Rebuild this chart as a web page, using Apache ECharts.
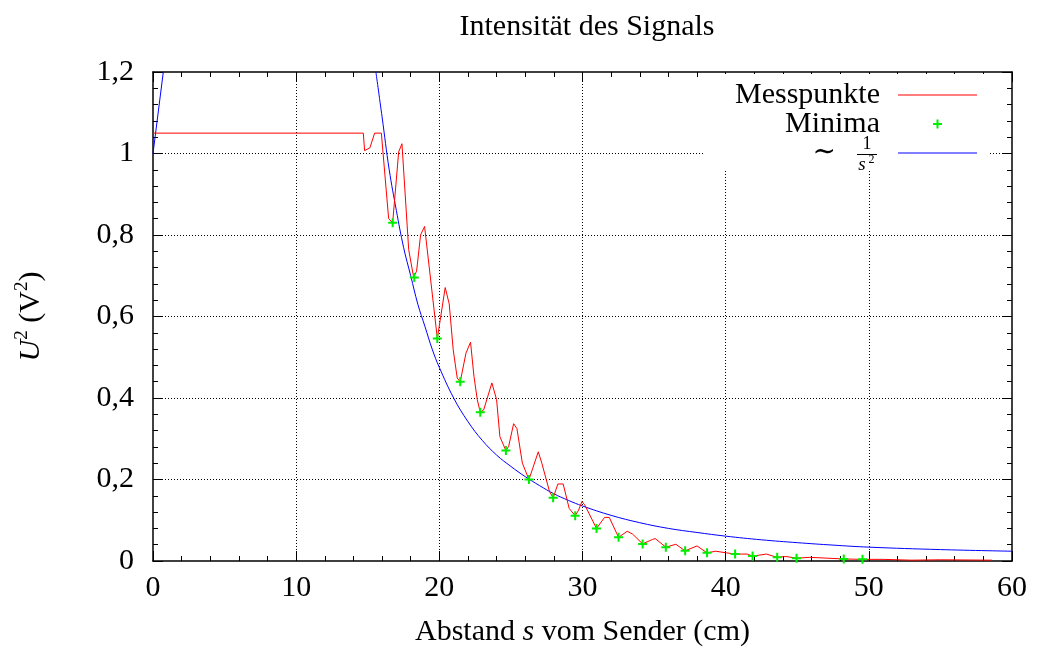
<!DOCTYPE html>
<html>
<head>
<meta charset="utf-8">
<script src="https://cdn.jsdelivr.net/npm/echarts@6/dist/echarts.min.js"></script>
<style>html,body{margin:0;padding:0;background:#fff}#c{width:1039px;height:654px}</style>
</head>
<body>
<div id="c"></div>
<script>
// ---- data ----
const messpunkte = [
  [0, 1.05], [14.69, 1.05], [14.78, 1.007], [15.15, 1.014], [15.48, 1.05], [15.95, 1.05],
  [16.46, 0.84], [16.74, 0.83], [17.16, 1.004], [17.39, 1.024], [17.86, 0.764], [18.2, 0.697],
  [18.41, 0.711], [18.69, 0.80], [18.97, 0.821], [19.86, 0.546], [20.41, 0.671], [20.69, 0.631],
  [20.97, 0.518], [21.25, 0.449], [21.46, 0.44], [21.86, 0.51], [22.18, 0.537], [22.42, 0.453],
  [22.65, 0.396], [22.86, 0.365], [23.1, 0.371], [23.67, 0.437], [24.0, 0.396], [24.23, 0.305],
  [24.65, 0.271], [24.84, 0.281], [25.19, 0.337], [25.42, 0.325], [25.8, 0.24], [26.26, 0.2],
  [26.53, 0.228], [26.91, 0.268], [27.16, 0.24], [27.7, 0.17], [27.95, 0.155], [28.28, 0.189],
  [28.65, 0.189], [29.07, 0.129], [29.49, 0.111], [29.73, 0.125], [29.96, 0.146], [30.15, 0.138],
  [30.98, 0.08], [31.54, 0.107], [31.87, 0.107], [32.52, 0.058], [33.12, 0.073], [33.5, 0.066],
  [34.2, 0.042], [34.9, 0.053], [35.08, 0.055], [35.82, 0.034], [36.52, 0.041], [37.17, 0.025],
  [38.0, 0.037], [38.7, 0.02], [39.3, 0.024], [40.06, 0.02], [40.66, 0.017], [41.5, 0.017],
  [41.88, 0.012], [42.85, 0.017], [43.6, 0.009], [44.2, 0.011], [44.95, 0.007], [45.88, 0.009],
  [48.25, 0.005], [49.56, 0.004], [51.0, 0.004], [53.0, 0.002], [55.0, 0.003], [58.6, 0.002]
];
const minima = [
  [16.74, 0.83], [18.25, 0.696], [19.86, 0.546], [21.46, 0.44], [22.86, 0.365], [24.65, 0.271],
  [26.26, 0.2], [27.95, 0.155], [29.49, 0.111], [30.98, 0.08], [32.52, 0.058], [34.2, 0.042],
  [35.82, 0.034], [37.17, 0.025], [38.7, 0.02], [40.66, 0.017], [41.88, 0.012], [43.6, 0.009],
  [44.95, 0.007], [48.25, 0.005], [49.56, 0.004]
];
const fitLeft = [[0, 1.0], [0.72, 1.2]];
const fitRight = [
  [15.57, 1.2], [16.0, 1.09], [16.5, 0.96], [17.0, 0.86], [17.5, 0.77], [18.0, 0.70],
  [18.5, 0.63], [19.0, 0.575], [19.5, 0.52], [20.0, 0.475], [21.0, 0.40], [22.0, 0.342],
  [23.0, 0.296], [24.0, 0.26], [25.0, 0.232], [26.0, 0.207], [27.0, 0.185], [28.0, 0.165],
  [29.0, 0.149], [30.0, 0.135], [32.0, 0.112], [34.0, 0.094], [36.0, 0.08], [38.0, 0.07],
  [40.0, 0.061], [42.5, 0.052], [45.0, 0.045], [47.5, 0.039], [50.0, 0.034], [55.0, 0.028],
  [60.0, 0.024]
];
const xTicks = [0, 10, 20, 30, 40, 50, 60];
const yTicks = [0, 0.2, 0.4, 0.6, 0.8, 1, 1.2];
const titleText = 'Intensität des Signals';
const legendNames = ['Messpunkte', 'Minima', 'fit'];

// ---- chart ----
const FONT = 'Liberation Serif';
const plusPath = 'path://M3.5,0H5.5V3.5H9V5.5H5.5V9H3.5V5.5H0V3.5H3.5Z';
const lineIcon = 'path://M0,0H79V1H0Z';
const chart = echarts.init(document.getElementById('c'), null, {renderer: 'canvas'});

function mirrorAxis(extra) {
  return Object.assign({
    type: 'value',
    axisLine: {show: true, onZero: false, lineStyle: {color: '#000', width: 1.5}},
    axisTick: {show: true, inside: true, length: 10, lineStyle: {color: '#000', width: 1}},
    minorTick: {show: true, splitNumber: 5, length: 5, lineStyle: {color: '#000', width: 1}},
    axisLabel: {show: false},
    splitLine: {show: false}
  }, extra);
}

const option = {
  backgroundColor: '#fff',
  animation: false,
  title: {
    text: titleText,
    left: 582, top: 7, textAlign: 'center',
    textStyle: {fontFamily: FONT, fontSize: 30, fontWeight: 'normal', color: '#000'}
  },
  grid: {left: 153, right: 27, top: 72, bottom: 93, containLabel: false},
  xAxis: [
    {
      type: 'value', min: xTicks[0], max: xTicks[xTicks.length - 1], interval: 10,
      position: 'bottom',
      name: '{n|Abstand }{i|s}{n| vom Sender (cm)}',
      nameLocation: 'middle', nameGap: 56,
      nameTextStyle: {
        rich: {
          n: {fontFamily: FONT, fontSize: 30, color: '#000'},
          i: {fontFamily: FONT, fontSize: 30, color: '#000', fontStyle: 'italic'}
        }
      },
      axisLine: {show: true, onZero: false, lineStyle: {color: '#000', width: 1.5}},
      axisTick: {show: true, inside: true, length: 10, lineStyle: {color: '#000', width: 1}},
      minorTick: {show: true, splitNumber: 5, length: 5, lineStyle: {color: '#000', width: 1}},
      axisLabel: {show: true, margin: 12, fontFamily: FONT, fontSize: 30, color: '#000'},
      splitLine: {show: true, showMinLine: false, showMaxLine: false,
        lineStyle: {color: '#000', width: 1, type: [1, 2]}}
    },
    mirrorAxis({position: 'top', min: 0, max: 60, interval: 10})
  ],
  yAxis: [
    {
      type: 'value', min: yTicks[0], max: yTicks[yTicks.length - 1], interval: 0.2,
      position: 'left',
      name: '{i|U}{s|2}{n| (V}{s|2}{n|)}',
      nameLocation: 'middle', nameGap: 104, nameRotate: 90,
      nameTextStyle: {
        rich: {
          n: {fontFamily: FONT, fontSize: 30, color: '#000', lineHeight: 36},
          i: {fontFamily: FONT, fontSize: 30, color: '#000', fontStyle: 'italic', lineHeight: 36},
          s: {fontFamily: FONT, fontSize: 19, color: '#000', verticalAlign: 'top', lineHeight: 36}
        }
      },
      axisLine: {show: true, onZero: false, lineStyle: {color: '#000', width: 1.5}},
      axisTick: {show: true, inside: true, length: 10, lineStyle: {color: '#000', width: 1}},
      minorTick: {show: true, splitNumber: 5, length: 5, lineStyle: {color: '#000', width: 1}},
      axisLabel: {
        show: true, margin: 19, fontFamily: FONT, fontSize: 30, color: '#000',
        formatter: v => String(Math.round(v * 10) / 10).replace('.', ',')
      },
      splitLine: {show: true, showMinLine: false, showMaxLine: false,
        lineStyle: {color: '#000', width: 1, type: [1, 2]}}
    },
    mirrorAxis({position: 'right', min: 0, max: 1.2, interval: 0.2})
  ],
  legend: {
    orient: 'vertical', align: 'right',
    right: 49, top: 74,
    itemWidth: 79, itemHeight: 9, itemGap: -1,
    padding: [6, 13, 2, 30],
    backgroundColor: '#fff',
    selectedMode: false,
    textStyle: {
      fontFamily: FONT, fontSize: 30, color: '#000', padding: [0, 13, 0, 0],
      rich: {
        t: {fontFamily: 'DejaVu Serif', fontSize: 28, color: '#000'},
        sp: {width: 44}
      }
    },
    data: [
      {name: legendNames[0], icon: lineIcon},
      {name: legendNames[1], icon: plusPath},
      {name: legendNames[2], icon: lineIcon}
    ],
    formatter: n => n === 'fit' ? '{t|∼}{sp|}' : n
  },
  graphic: [
    {type: 'text', x: 867, y: 144, z: 100,
      style: {text: '1', fontFamily: FONT, fontSize: 18, fill: '#000', align: 'center', verticalAlign: 'middle'}},
    {type: 'line', z: 100, shape: {x1: 857, y1: 154.5, x2: 877, y2: 154.5},
      style: {stroke: '#000', lineWidth: 1}},
    {type: 'text', x: 862, y: 165, z: 100,
      style: {text: 's', fontFamily: FONT, fontSize: 19, fontStyle: 'italic', fill: '#000', align: 'center', verticalAlign: 'middle'}},
    {type: 'text', x: 871.5, y: 160, z: 100,
      style: {text: '2', fontFamily: FONT, fontSize: 12, fill: '#000', align: 'center', verticalAlign: 'middle'}}
  ],
  series: [
    {
      name: legendNames[0], type: 'line', data: messpunkte,
      symbol: 'none', showSymbol: false,
      lineStyle: {color: '#ff0000', width: 1}, itemStyle: {color: '#ff0000'},
      z: 3
    },
    {
      name: legendNames[1], type: 'scatter', data: minima,
      symbol: plusPath, symbolSize: 9,
      itemStyle: {color: '#00ee00', opacity: 1},
      z: 4
    },
    {
      name: legendNames[2], type: 'line', data: fitLeft,
      symbol: 'none', showSymbol: false,
      lineStyle: {color: '#0000ff', width: 1}, itemStyle: {color: '#0000ff'},
      z: 2
    },
    {
      name: legendNames[2], type: 'line', data: fitRight,
      symbol: 'none', showSymbol: false, smooth: 0.4,
      lineStyle: {color: '#0000ff', width: 1}, itemStyle: {color: '#0000ff'},
      z: 2
    }
  ]
};
chart.setOption(option);
</script>
</body>
</html>
